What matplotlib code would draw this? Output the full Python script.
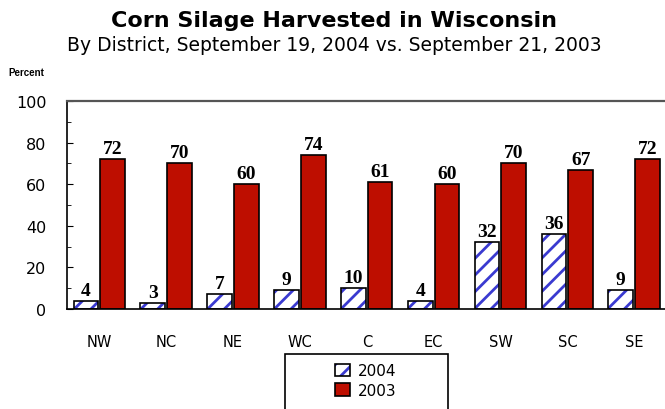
import numpy as np
import matplotlib.pyplot as plt
from matplotlib.patches import Patch, Rectangle

# data
districts = ['NW', 'NC', 'NE', 'WC', 'C', 'EC', 'SW', 'SC', 'SE']
pct_2004 = [4, 3, 7, 9, 10, 4, 32, 36, 9]
pct_2003 = [72, 70, 60, 74, 61, 60, 70, 67, 72]

red = '#BE0E00'
hatch_blue = '#3a3ad0'
narrow = ['DejaVu Sans Condensed', 'Liberation Sans', 'DejaVu Sans']

plt.rcParams['hatch.linewidth'] = 2.0

fig = plt.figure(figsize=(6.65, 4.1), dpi=100)
ax = fig.add_axes([0.101, 0.244, 0.899, 0.507])

x = np.arange(len(districts))
w = 0.37

# 2004 bars: blue hatch layer, then black outline
ax.bar(x - 0.2, pct_2004, w, color='white', edgecolor=hatch_blue, hatch='//', linewidth=0)
ax.bar(x - 0.2, pct_2004, w, color='none', edgecolor='black', linewidth=1.2)
ax.bar(x + 0.2, pct_2003, w, color=red, edgecolor='black', linewidth=1.2)

vfont = dict(family='Liberation Serif', fontweight='bold', fontsize=14)
for i in range(len(districts)):
    ax.text(x[i] - 0.2, pct_2004[i] + 1.0, str(pct_2004[i]), ha='center', va='bottom', **vfont)
    ax.text(x[i] + 0.2, pct_2003[i] + 1.0, str(pct_2003[i]), ha='center', va='bottom', **vfont)

ax.set_xlim(-0.48, 8.46)
ax.set_ylim(0, 100)
ax.set_yticks(range(0, 101, 20))
ax.set_yticks(range(0, 101, 10), minor=True)
ax.tick_params(axis='y', direction='in', length=4, labelsize=11.5, pad=15)
ax.tick_params(axis='y', which='minor', direction='in', length=3)
ax.set_xticks(x)
ax.set_xticklabels(districts, fontsize=10.5)
ax.tick_params(axis='x', length=0, pad=18)

ax.spines['right'].set_visible(False)
ax.spines['top'].set_color('#555555')
ax.spines['top'].set_linewidth(1.6)
ax.spines['left'].set_linewidth(1.2)
ax.spines['bottom'].set_linewidth(1.2)

fig.text(0.503, 0.948, 'Corn Silage Harvested in Wisconsin', ha='center', va='center',
         fontsize=16, fontweight='bold')
fig.text(0.503, 0.888, 'By District, September 19, 2004 vs. September 21, 2003', ha='center',
         va='center', fontsize=13.5)
fig.text(0.012, 0.822, 'Percent', ha='left', va='center', fontsize=7, fontweight='bold',
         family=narrow)

# legend frame (runs off the bottom of the picture)
fig.patches.append(Rectangle((285 / 665, -0.05), 163 / 665, 0.05 + 55 / 410,
                             transform=fig.transFigure, facecolor='white',
                             edgecolor='black', linewidth=1.2))
h04 = (Patch(facecolor='white', edgecolor=hatch_blue, hatch='//', linewidth=0),
       Patch(facecolor='none', edgecolor='black', linewidth=1.2))
h03 = Patch(facecolor=red, edgecolor='black', linewidth=1.2)
fig.legend([h04, h03], ['2004', '2003'], loc='upper left', bbox_to_anchor=(0.492, 0.13),
           frameon=False, fontsize=11, handlelength=1.0, handleheight=0.9,
           labelspacing=0.3, borderpad=0.0, handletextpad=0.5)

fig.savefig('out.png', dpi=100)
